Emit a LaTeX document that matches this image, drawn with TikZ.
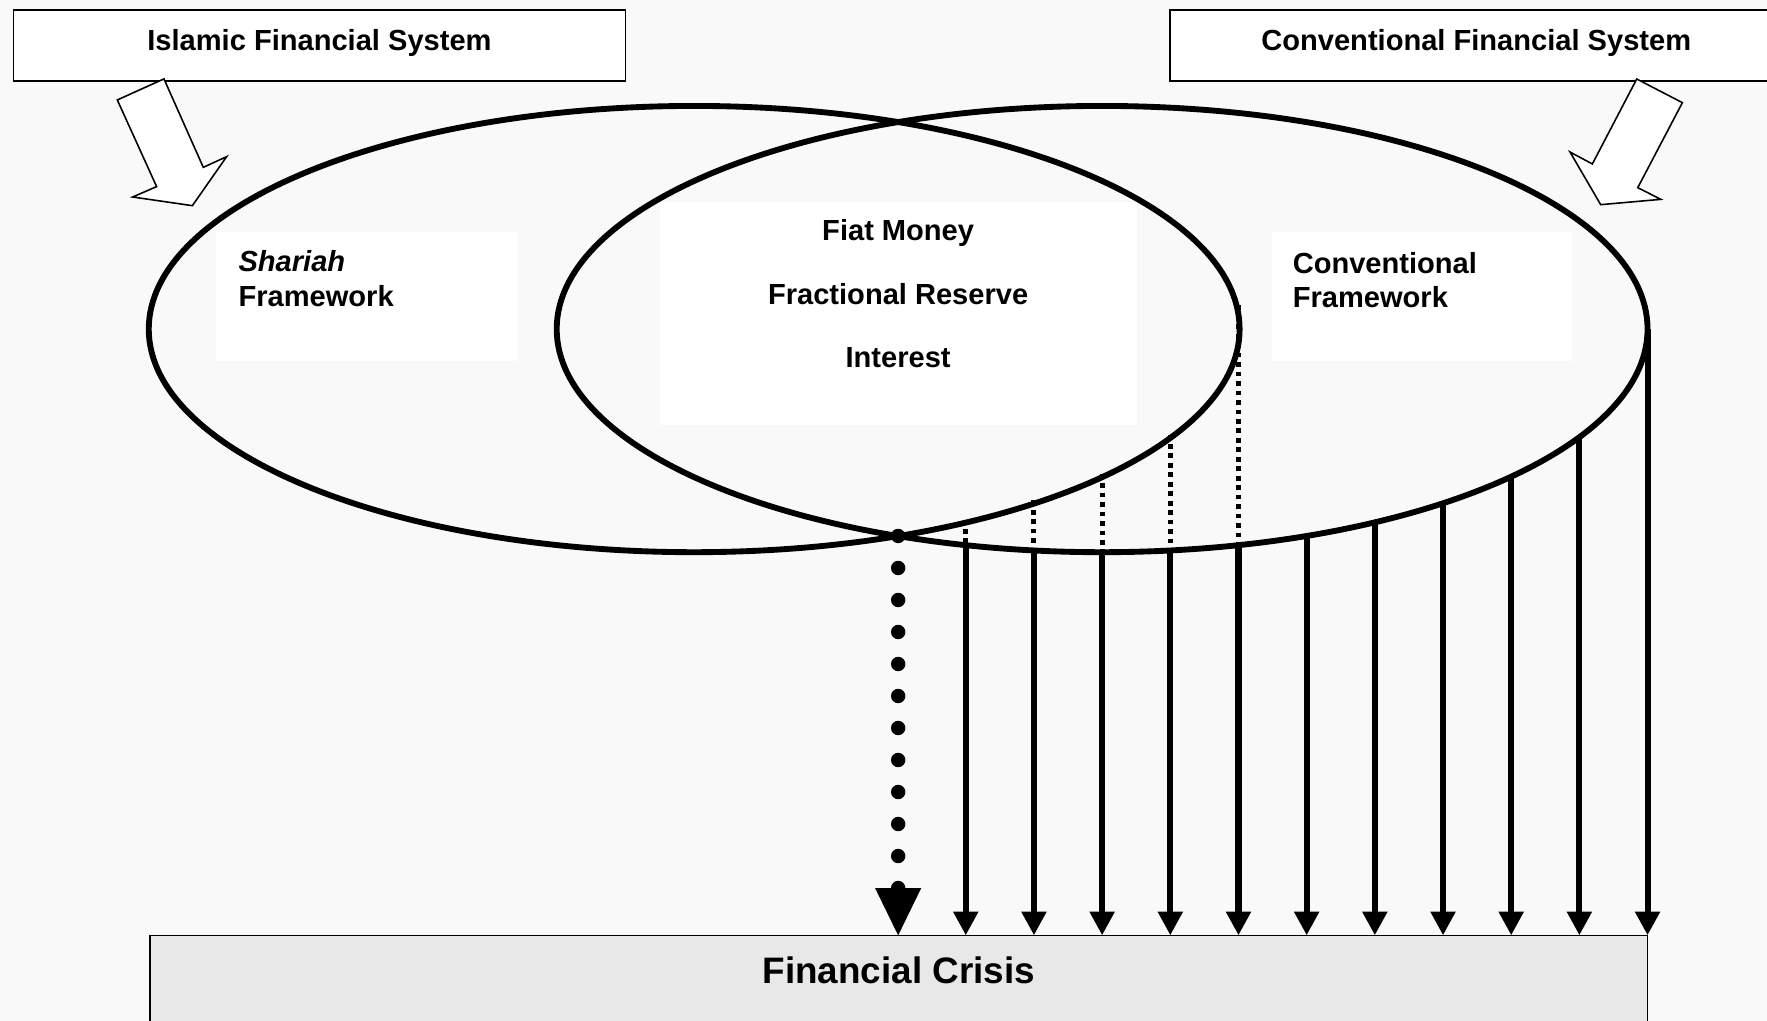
\documentclass[tikz,border=0pt]{standalone}
\usepackage{fontspec}
\setmainfont{Liberation Sans}
\usetikzlibrary{shapes.geometric,arrows.meta,calc}
\definecolor{paper}{RGB}{249,249,249}
\definecolor{crisisfill}{RGB}{232,232,232}
\begin{document}
\begin{tikzpicture}[x=1pt,y=-1pt,
  lbl/.style={font=\fontsize{25.8}{31}\selectfont\bfseries, inner sep=0pt},
  titlebox/.style={draw, fill=white, line width=1.4pt, minimum width=543pt,
    minimum height=63pt, inner sep=0pt, outer sep=0pt},
  pad/.style={fill=white, inner sep=0pt, outer sep=0pt},
  ring/.style={draw, ellipse, line width=5.2pt, minimum width=968pt,
    minimum height=396pt, inner sep=0pt},
  hollow/.style={draw, fill=white, line width=1.4pt, line join=miter},
  flow/.style={line width=5.4pt, -{Triangle[length=21pt,width=21pt]}},
  flowdots/.style={line width=4.4pt, dash pattern=on 4.2pt off 4.2pt},
]
\useasboundingbox (0,0) rectangle (1568,906);
\clip (0,0) rectangle (1568,906);
\fill[paper] (0,0) rectangle (1568,906);

% white pads behind the labels
\node[pad, minimum width=266.5pt, minimum height=114pt] (padL) at (325.25,263) {};
\node[pad, minimum width=423pt, minimum height=198pt] (padM) at (797.2,278) {};
\node[pad, minimum width=266.2pt, minimum height=114pt] (padR) at (1261.6,263) {};

% the crisis bar
\node[draw, fill=crisisfill, line width=1.4pt, anchor=north west,
  minimum width=1329pt, minimum height=100pt, inner sep=0pt, outer sep=0pt]
  (crisis) at (133,830) {};
\node[inner sep=0pt, font=\fontsize{32.7}{39}\selectfont\bfseries, anchor=base]
  (crisisT) at (797.5,873) {Financial Crisis};

% points where the vertical flows meet the right ellipse
\foreach \x [count=\i] in {857,917.5,978,1038.5,1099,1159.5,1220,1280.5,1341,1401.5,1462} {
  \pgfmathsetmacro\ys{292+198*sqrt(max(0,1-((\x-978)/484)^2))}
  \coordinate (s\i) at (\x,\ys);
}
% tops of the dotted parts on the left ellipse
\coordinate (d1) at (857,461);
\coordinate (d2) at (917.5,444);
\coordinate (d3) at (978,420.4);
\coordinate (d4) at (1038.5,385.6);
\coordinate (d5) at (1099,271);
\foreach \i in {1,...,5} \draw[flowdots] (d\i) -- (s\i);

% the two overlapping systems
\node[ring] (L) at (616,292) {};
\node[ring] (R) at (978,292) {};
\coordinate (X) at (797,475.6);

% solid flows into the crisis bar
\foreach \i in {1,...,11} \draw[flow] (s\i) -- (s\i |- crisis.north);

% dotted flow from the common core
\foreach \k in {0,...,11} \fill ($(X)+(0,28.4*\k)$) circle[radius=6.4pt];
\fill (X |- crisis.north) ++(-20.5,-42) -- ++(41,0) -- (X |- crisis.north) -- cycle;

% labels
\node[lbl, anchor=base west] (shar) at (211.5,241) {\itshape Shariah};
\node[lbl, anchor=base west] (sharF) at (211.5,272) {Framework};
\node[lbl, anchor=base west] (conv1) at (1147,242.5) {Conventional};
\node[lbl, anchor=base west] (conv2) at (1147,272.7) {Framework};
\node[lbl, anchor=base] (fiat) at (797,213.6) {Fiat Money};
\node[lbl, anchor=base] (frac) at (797,269.8) {Fractional Reserve};
\node[lbl, anchor=base] (intr) at (797,326) {Interest};

% system boxes
\node[titlebox] (isl) at (283.5,40.5) {};
\node[lbl, anchor=base] (islT) at (283.5,44.4) {Islamic Financial System};
\node[titlebox] (cfs) at (1309.5,40.5) {};
\node[lbl, anchor=base] (cfsT) at (1310,44.4) {Conventional Financial System};

% block arrows from the boxes into the ellipses
\draw[hollow] (145.5,70) -- (104.1,88.7) -- (139,165.6) -- (117.7,174.8)
  -- (170.7,182.5) -- (201.1,139) -- (180.4,148.5) -- cycle;
\draw[hollow] (1452.4,70.1) -- (1492.9,91.1) -- (1453.3,166.5) -- (1473.7,176.9)
  -- (1420.4,181.6) -- (1393.2,134.9) -- (1413,145.5) -- cycle;
\end{tikzpicture}
\end{document}
